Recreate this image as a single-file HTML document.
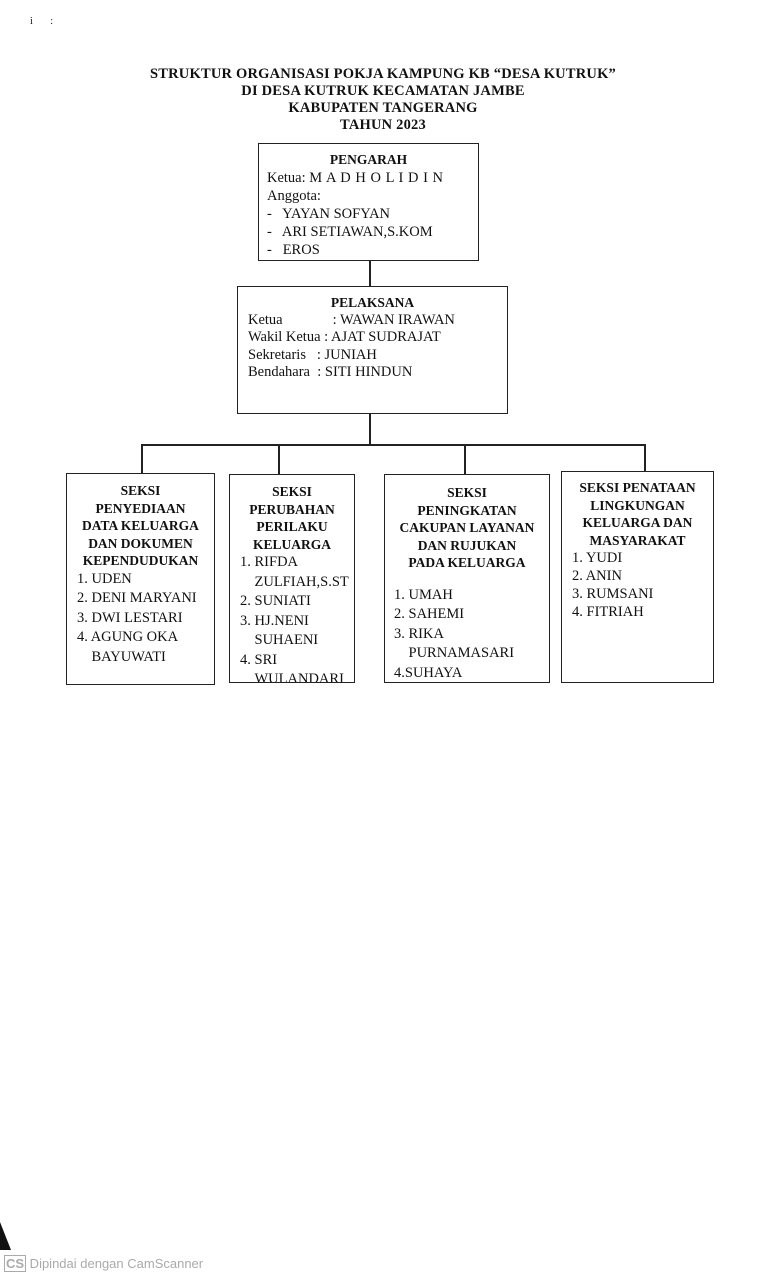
<!DOCTYPE html>
<html><head><meta charset="utf-8"><style>
body{margin:0;width:757px;height:1280px;background:#fff;position:relative;overflow:hidden;font-family:"Liberation Serif",serif;color:#111}
.b{position:absolute;border:1.6px solid #222;box-sizing:border-box;overflow:hidden}
.t{position:absolute;font-weight:bold;font-size:14.5px;text-align:center;line-height:17px;letter-spacing:0.2px}
.l{position:absolute;background:#222}
.h{font-weight:bold;font-size:13.5px;text-align:center;line-height:17.5px}
.r{font-size:14.5px;line-height:19.5px;white-space:nowrap}
</style></head><body>
<div style="position:absolute;left:30px;top:16px;font-size:10px">i &nbsp; &nbsp; &nbsp; :</div>
<div class="t" style="left:0;width:766px;top:66px">STRUKTUR ORGANISASI POKJA KAMPUNG KB “DESA KUTRUK”<br>DI DESA KUTRUK KECAMATAN JAMBE<br>KABUPATEN TANGERANG<br>TAHUN 2023</div>

<div class="b" style="left:258px;top:143px;width:221px;height:118px;padding:7px 8px">
<div class="h">PENGARAH</div>
<div class="r" style="line-height:18px">Ketua: <span style="letter-spacing:0.5px">M A D H O L I D I N</span><br>Anggota:<br>- &nbsp; YAYAN SOFYAN<br>- &nbsp; ARI SETIAWAN,S.KOM<br>- &nbsp; EROS</div></div>
<div class="l" style="left:369px;top:260px;width:2px;height:27px"></div>

<div class="b" style="left:237px;top:286px;width:271px;height:128px;padding:7px 10px">
<div class="h">PELAKSANA</div>
<div class="r" style="line-height:17.5px">Ketua<span style="display:inline-block;width:50px"></span>: WAWAN IRAWAN<br>Wakil Ketua : AJAT SUDRAJAT<br>Sekretaris &nbsp;&nbsp;: JUNIAH<br>Bendahara &nbsp;: SITI HINDUN</div></div>
<div class="l" style="left:369px;top:413px;width:2px;height:33px"></div>
<div class="l" style="left:141px;top:444px;width:505px;height:2px"></div>
<div class="l" style="left:141px;top:444px;width:2px;height:30px"></div>
<div class="l" style="left:278px;top:444px;width:2px;height:30px"></div>
<div class="l" style="left:464px;top:444px;width:2px;height:30px"></div>
<div class="l" style="left:644px;top:444px;width:2px;height:28px"></div>

<div class="b" style="left:66px;top:473px;width:149px;height:212px;padding:8px 4px 0 10px">
<div class="h" style="margin-left:-6px">SEKSI<br>PENYEDIAAN<br>DATA KELUARGA<br>DAN DOKUMEN<br>KEPENDUDUKAN</div>
<div class="r">1. UDEN<br>2. DENI MARYANI<br>3. DWI LESTARI<br>4. AGUNG OKA<br>&nbsp;&nbsp;&nbsp;&nbsp;BAYUWATI</div></div>

<div class="b" style="left:229px;top:474px;width:126px;height:209px;padding:8px 4px 0 10px">
<div class="h" style="margin-left:-6px">SEKSI<br>PERUBAHAN<br>PERILAKU<br>KELUARGA</div>
<div class="r">1. RIFDA<br>&nbsp;&nbsp;&nbsp;&nbsp;ZULFIAH,S.ST<br>2. SUNIATI<br>3. HJ.NENI<br>&nbsp;&nbsp;&nbsp;&nbsp;SUHAENI<br>4. SRI<br>&nbsp;&nbsp;&nbsp;&nbsp;WULANDARI</div></div>

<div class="b" style="left:384px;top:474px;width:166px;height:209px;padding:9px 4px 0 9px">
<div class="h" style="margin-left:-5px">SEKSI<br>PENINGKATAN<br>CAKUPAN LAYANAN<br>DAN RUJUKAN<br>PADA KELUARGA</div>
<div class="r" style="margin-top:14px">1. UMAH<br>2. SAHEMI<br>3. RIKA<br>&nbsp;&nbsp;&nbsp;&nbsp;PURNAMASARI<br>4.SUHAYA</div></div>

<div class="b" style="left:561px;top:471px;width:153px;height:212px;padding:7px 4px 0 10px">
<div class="h" style="margin-left:-6px">SEKSI PENATAAN<br>LINGKUNGAN<br>KELUARGA DAN<br>MASYARAKAT</div>
<div class="r" style="line-height:18px">1. YUDI<br>2. ANIN<br>3. RUMSANI<br>4. FITRIAH</div></div>

<div style="position:absolute;left:0;top:1222px;width:0;height:0;border-left:11px solid #111;border-top:28px solid transparent"></div>
<div style="position:absolute;left:4px;top:1256px;font-family:'Liberation Sans',sans-serif;font-size:13px;color:#aaa"><span style="border:1.5px solid #aaa;padding:0 1px;font-weight:bold">CS</span> Dipindai dengan CamScanner</div>
</body></html>
